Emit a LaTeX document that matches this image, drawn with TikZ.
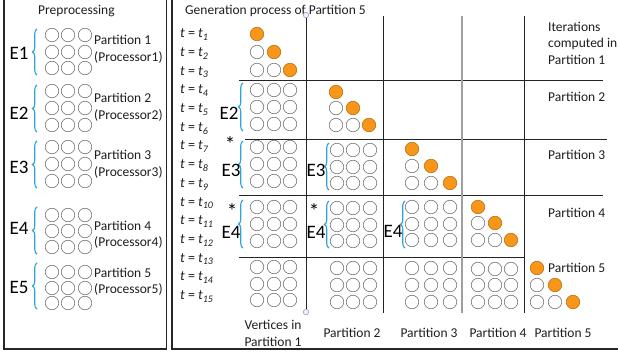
\documentclass[tikz,border=0pt]{standalone}
\usepackage{fontspec}
\setmainfont{Carlito}
\usetikzlibrary{decorations.pathreplacing}
\definecolor{orF}{RGB}{247,150,25}
\definecolor{orD}{RGB}{185,105,10}
\definecolor{brc}{RGB}{45,165,220}
\definecolor{lnc}{RGB}{35,35,35}
\definecolor{cgr}{RGB}{105,105,105}
\definecolor{txc}{RGB}{30,30,30}
\newcommand\cgrid[7]{%
  \foreach \cx [count=\ci] in {#2,#3,#4}{%
    \foreach \cy [count=\cj] in {#5,#6,#7}{%
      \node[vc] (#1-\cj-\ci) at (\cx,\cy) {};}}}
\newcommand\tgrid[7]{%
  \node[oc] (#1-1-1) at (#2,#5) {};
  \node[vc] (#1-2-1) at (#2,#6) {};
  \node[oc] (#1-2-2) at (#3,#6) {};
  \node[vc] (#1-3-1) at (#2,#7) {};
  \node[vc] (#1-3-2) at (#3,#7) {};
  \node[oc] (#1-3-3) at (#4,#7) {};}
\newcommand\ebrace[4]{%
  \coordinate (#1-t) at (#2,#3);
  \coordinate (#1-b) at (#2,#4);
  \draw[bracestyle] (#1-b) -- (#1-t);}
\begin{document}
\begin{tikzpicture}[x=1pt,y=-1pt,
  vc/.style={circle,draw=cgr,line width=0.55pt,fill=white,minimum size=13.5pt,inner sep=0pt},
  oc/.style={vc,fill=orF,draw=orD},
  lbl/.style={inner sep=0pt,text=txc,font=\fontsize{13.5}{16}\selectfont,text height=9pt,text depth=0pt},
  elbl/.style={inner sep=0pt,text=black,font=\fontsize{19}{22}\selectfont,text height=13pt,text depth=0pt},
  starlbl/.style={inner sep=0pt,anchor=base,text=black,font=\fontsize{21}{23}\selectfont},
  tlbl/.style={inner sep=0pt,anchor=west,text=txc,font=\fontsize{14}{16}\selectfont\itshape,text height=9.5pt,text depth=0pt},
  bracestyle/.style={draw=brc,line width=1.1pt,decorate,decoration={brace,amplitude=4.5pt}},
  gridline/.style={draw=lnc,line width=0.8pt},
  panel/.style={draw=black!85,line width=1.6pt},
  endpt/.style={circle,draw=gray!50!blue!60,fill=gray!10,line width=0.5pt,minimum size=5.5pt,inner sep=0pt}
]
\useasboundingbox (0,0) rectangle (618,356);
\clip (0,0) rectangle (618,356);
\fill[white] (0,0) rectangle (618,356);
% panels
\coordinate (pl1) at (4,-10); \coordinate (pl2) at (4,349);
\coordinate (pl3) at (166.5,349); \coordinate (pl4) at (166.5,-10);
\draw[panel] (pl1) -- (pl2) -- (pl3) -- (pl4);
\coordinate (pr1) at (172,-10); \coordinate (pr2) at (172,349); \coordinate (pr3) at (630,349);
\draw[panel] (pr1) -- (pr2) -- (pr3);
% titles
\node[lbl,anchor=west] (pre) at (38,10) {Preprocessing};
\node[lbl,anchor=west] (gen) at (185,10) {Generation process of Partition 5};
% left panel groups
\cgrid{L1}{52}{68}{85}{35}{52}{68}
\cgrid{L2}{52}{68}{85}{91}{108}{125}
\cgrid{L3}{52}{68}{85}{147}{164}{181}
\cgrid{L4}{52}{68}{85}{215}{231}{247}
\cgrid{L5}{52}{68}{85}{272}{288}{303}
\ebrace{LB1}{37}{29}{75}
\ebrace{LB2}{37}{85}{132}
\ebrace{LB3}{37}{141}{188}
\ebrace{LB4}{37}{207}{254}
\ebrace{LB5}{37}{263}{309}
\node[elbl] (E1) at (19,53) {E1};
\node[elbl] (E2) at (19,113) {E2};
\node[elbl] (E3) at (19,167) {E3};
\node[elbl] (E4) at (19,228) {E4};
\node[elbl] (E5) at (19,287) {E5};
\node[lbl,anchor=west] (p1) at (94,40) {Partition 1};
\node[lbl,anchor=west] (q1) at (94,57) {(Processor1)};
\node[lbl,anchor=west] (p2) at (94,98) {Partition 2};
\node[lbl,anchor=west] (q2) at (94,115) {(Processor2)};
\node[lbl,anchor=west] (p3) at (94,155) {Partition 3};
\node[lbl,anchor=west] (q3) at (94,172) {(Processor3)};
\node[lbl,anchor=west] (p4) at (94,226) {Partition 4};
\node[lbl,anchor=west] (q4) at (94,242) {(Processor4)};
\node[lbl,anchor=west] (p5) at (94,273) {Partition 5};
\node[lbl,anchor=west] (q5) at (94,289) {(Processor5)};
% grid lines
\coordinate (h1a) at (239,80);  \coordinate (h1b) at (603,80);
\coordinate (h2a) at (245,139); \coordinate (h2b) at (607,139);
\coordinate (h3a) at (239,195); \coordinate (h3b) at (603,195);
\coordinate (h4a) at (239,257); \coordinate (h4b) at (524,257);
\draw[gridline] (h1a) -- (h1b);
\draw[gridline] (h2a) -- (h2b);
\draw[gridline] (h3a) -- (h3b);
\draw[gridline] (h4a) -- (h4b);
\coordinate (v2a) at (383,16); \coordinate (v2b) at (383,313);
\coordinate (v3a) at (462,16); \coordinate (v3b) at (462,313);
\coordinate (v4a) at (524,16); \coordinate (v4b) at (524,313);
\draw[gridline] (v2a) -- (v2b);
\draw[gridline,draw=gray!75,line width=1.3pt] (v3a) -- (v3b);
\draw[gridline] (v4a) -- (v4b);
\node[endpt] (v1a) at (306,15) {};
\node[endpt] (v1b) at (306,312) {};
\draw[gridline] (v1a) -- (v1b);
% t labels
\foreach \k in {1,...,15}{%
  \node[tlbl] (t\k) at (180,{33+18.7*(\k-1)}) {t {\upshape =} t\raisebox{-2.8pt}{\fontsize{10}{10}\selectfont\itshape\k}};}
% column 1
\tgrid{C1T}{257}{274}{290}{34}{52}{70}
\cgrid{C1a}{257}{274}{290}{90}{107}{124}
\cgrid{C1b}{257}{274}{290}{147}{164}{181}
\cgrid{C1c}{257}{274}{290}{207}{224}{241}
\cgrid{C1d}{257}{274}{290}{267}{284}{300}
\ebrace{RB1}{243}{83}{131}
\ebrace{RB2}{243}{141}{188}
\ebrace{RB3}{243}{200}{248}
\node[elbl] (cE2) at (229,113) {E2};
\node[elbl] (cE3) at (231,170) {E3};
\node[elbl] (cE4) at (231,232) {E4};
\node[starlbl] (s1) at (230,151) {*};
\node[starlbl] (s2) at (232,218) {*};
% column 2
\tgrid{C2T}{336}{353}{369}{92}{108}{125}
\cgrid{C2a}{337}{353}{370}{150}{167}{183}
\cgrid{C2b}{337}{353}{370}{208}{225}{241}
\cgrid{C2c}{337}{353}{370}{268}{285}{302}
\ebrace{RB4}{329}{143}{190}
\ebrace{RB5}{329}{201}{248}
\node[elbl] (dE3) at (316,170) {E3};
\node[elbl] (dE4) at (316,232) {E4};
\node[starlbl] (s3) at (314,218) {*};
% column 3
\tgrid{C3T}{412}{431}{450}{149}{166}{183}
\cgrid{C3a}{412}{431}{450}{207}{224}{240}
\cgrid{C3b}{412}{431}{450}{268}{285}{302}
\ebrace{RB6}{405}{201}{248}
\node[elbl] (eE4) at (393,231) {E4};
% column 4
\tgrid{C4T}{478}{495}{511}{207}{223}{240}
\cgrid{C4a}{478}{495}{511}{269}{285}{302}
% column 5
\tgrid{C5T}{537}{555}{573}{268}{285}{302}
% right labels
\node[lbl,anchor=west] (it1) at (548,27) {Iterations};
\node[lbl,anchor=west] (it2) at (548,43) {computed in};
\node[lbl,anchor=west] (it3) at (548,60) {Partition 1};
\node[lbl,anchor=west] (r2) at (548,97) {Partition 2};
\node[lbl,anchor=west] (r3) at (548,155) {Partition 3};
\node[lbl,anchor=west] (r4) at (548,213) {Partition 4};
\node[lbl,anchor=west] (r5) at (548,268) {Partition 5};
% bottom labels
\node[lbl] (b1a) at (273,325) {Vertices in};
\node[lbl] (b1b) at (273,342) {Partition 1};
\node[lbl] (b2) at (352,333) {Partition 2};
\node[lbl] (b3) at (429,333) {Partition 3};
\node[lbl] (b4) at (498,333) {Partition 4};
\node[lbl] (b5) at (563,333) {Partition 5};
\end{tikzpicture}
\end{document}
